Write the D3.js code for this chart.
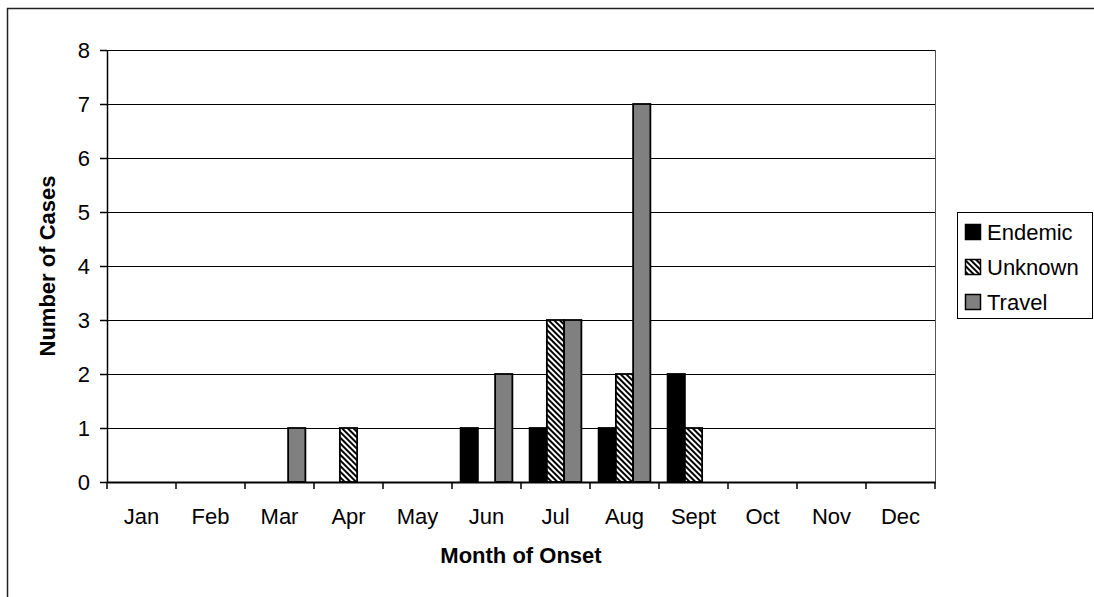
<!DOCTYPE html>
<html>
<head>
<meta charset="utf-8">
<script src="https://cdn.jsdelivr.net/npm/d3@7"></script>
<style>
  body { margin: 0; background: #fff; }
  svg { display: block; font-family: "Liberation Sans", Arial, sans-serif; }
</style>
</head>
<body>
<div id="chart"></div>
<script>
// chart data
var months = ['Jan', 'Feb', 'Mar', 'Apr', 'May', 'Jun', 'Jul', 'Aug', 'Sept', 'Oct', 'Nov', 'Dec'];
var seriesNames = ['Endemic', 'Unknown', 'Travel'];
var endemic = [0, 0, 0, 0, 0, 1, 1, 1, 2, 0, 0, 0];
var unknown = [0, 0, 0, 1, 0, 0, 3, 2, 1, 0, 0, 0];
var travel = [0, 0, 1, 0, 0, 2, 3, 7, 0, 0, 0, 0];
var yTicks = [0, 1, 2, 3, 4, 5, 6, 7, 8];

var width = 1094
height = 597
fontSize = 22

var plot = { left: 107, right: 935, top: 50, bottom: 482 };

var svg = d3.select('#chart')
  .append('svg')
  .attr('width', width)
  .attr('height', height);

// hatch pattern for "Unknown"
var defs = svg.append('defs');
var pat = defs.append('pattern')
  .attr('id', 'hatch')
  .attr('patternUnits', 'userSpaceOnUse')
  .attr('width', 4)
  .attr('height', 4)
  .attr('patternTransform', 'rotate(-45)');
pat.append('rect').attr('width', 4).attr('height', 4).attr('fill', '#fff');
pat.append('rect').attr('width', 2).attr('height', 4).attr('fill', '#000');

var fills = { Endemic: '#000', Unknown: 'url(#hatch)', Travel: '#808080' };

// outer chart border (runs past the right/bottom edge)
svg.append('rect')
  .attr('x', 7.5).attr('y', 8.5)
  .attr('width', width + 10).attr('height', height + 10)
  .attr('fill', 'none').attr('stroke', '#222').attr('stroke-width', 1.5);

var x = d3.scaleBand()
  .domain(months)
  .range([plot.left, plot.right]);

var x1 = d3.scaleBand()
  .domain(seriesNames)
  .range([0, x.bandwidth()])
  .paddingOuter(0.5)
  .paddingInner(0);

var y = d3.scaleLinear()
  .domain([0, 8])
  .range([plot.bottom, plot.top]);

// gridlines
svg.append('g')
  .selectAll('line')
  .data(yTicks.slice(1))
  .enter()
  .append('line')
  .attr('x1', plot.left).attr('x2', plot.right)
  .attr('y1', function (d) { return Math.round(y(d)) + 0.5; })
  .attr('y2', function (d) { return Math.round(y(d)) + 0.5; })
  .attr('stroke', '#000').attr('stroke-width', 1);

// right border of plot area
svg.append('line')
  .attr('x1', plot.right + 0.5).attr('x2', plot.right + 0.5)
  .attr('y1', plot.top).attr('y2', plot.bottom)
  .attr('stroke', '#555').attr('stroke-width', 1);

// bars
var rows = months.map(function (m, i) {
  return { month: m, Endemic: endemic[i], Unknown: unknown[i], Travel: travel[i] };
});

var groups = svg.append('g')
  .selectAll('g')
  .data(rows)
  .enter()
  .append('g')
  .attr('transform', function (d) { return 'translate(' + x(d.month) + ',0)'; });

groups.selectAll('rect')
  .data(function (d) {
    return seriesNames.map(function (s) { return { key: s, value: d[s] }; })
      .filter(function (e) { return e.value > 0; });
  })
  .enter()
  .append('rect')
  .attr('x', function (d) { return x1(d.key); })
  .attr('width', x1.bandwidth())
  .attr('y', function (d) { return y(d.value); })
  .attr('height', function (d) { return y(0) - y(d.value); })
  .attr('fill', function (d) { return fills[d.key]; })
  .attr('stroke', '#000')
  .attr('stroke-width', 1.8);

// y axis
var yAxis = svg.append('g')
  .attr('transform', 'translate(' + plot.left + ',0)')
  .call(d3.axisLeft(y).tickValues(yTicks).tickSize(7).tickPadding(10).tickSizeOuter(0));
yAxis.selectAll('text').attr('font-size', fontSize).attr('fill', '#000').attr('font-family', '"Liberation Sans", Arial, sans-serif');
yAxis.selectAll('line, path').attr('stroke', '#000').attr('stroke-width', 1.5);

// x axis: ticks at band boundaries
var xAxis = svg.append('g')
  .attr('transform', 'translate(0,' + plot.bottom + ')')
  .call(d3.axisBottom(x).tickSize(0).tickPadding(26).tickSizeOuter(0));
xAxis.selectAll('text').attr('font-size', fontSize).attr('fill', '#000').attr('font-family', '"Liberation Sans", Arial, sans-serif');
xAxis.select('path').attr('stroke', '#000').attr('stroke-width', 2);

xAxis.selectAll('line.bound')
  .data(months.concat(['end']))
  .enter()
  .append('line')
  .attr('class', 'bound')
  .attr('x1', function (d, i) { return plot.left + i * x.step(); })
  .attr('x2', function (d, i) { return plot.left + i * x.step(); })
  .attr('y1', 0).attr('y2', 7)
  .attr('stroke', '#000').attr('stroke-width', 1.5);

// axis titles
svg.append('text')
  .attr('x', (plot.left + plot.right) / 2)
  .attr('y', 563)
  .attr('text-anchor', 'middle')
  .attr('font-size', fontSize)
  .attr('font-weight', 'bold')
  .text('Month of Onset');

svg.append('text')
  .attr('transform', 'translate(55,' + (plot.top + plot.bottom) / 2 + ') rotate(-90)')
  .attr('text-anchor', 'middle')
  .attr('font-size', fontSize)
  .attr('font-weight', 'bold')
  .text('Number of Cases');

// legend
var legend = svg.append('g');
legend.append('rect')
  .attr('x', 957.5).attr('y', 212.5)
  .attr('width', 135).attr('height', 106)
  .attr('fill', '#fff').attr('stroke', '#000').attr('stroke-width', 1);

var items = legend.selectAll('g.item')
  .data(seriesNames)
  .enter()
  .append('g')
  .attr('class', 'item')
  .attr('transform', function (d, i) { return 'translate(965,' + (232 + i * 35) + ')'; });

items.append('rect')
  .attr('x', 0.5).attr('y', -7.5)
  .attr('width', 15).attr('height', 15)
  .attr('fill', function (d) { return fills[d]; })
  .attr('stroke', '#000').attr('stroke-width', 1.5);

items.append('text')
  .attr('x', 22)
  .attr('y', 8)
  .attr('font-size', fontSize)
  .text(function (d) { return d; });
</script>
</body>
</html>
